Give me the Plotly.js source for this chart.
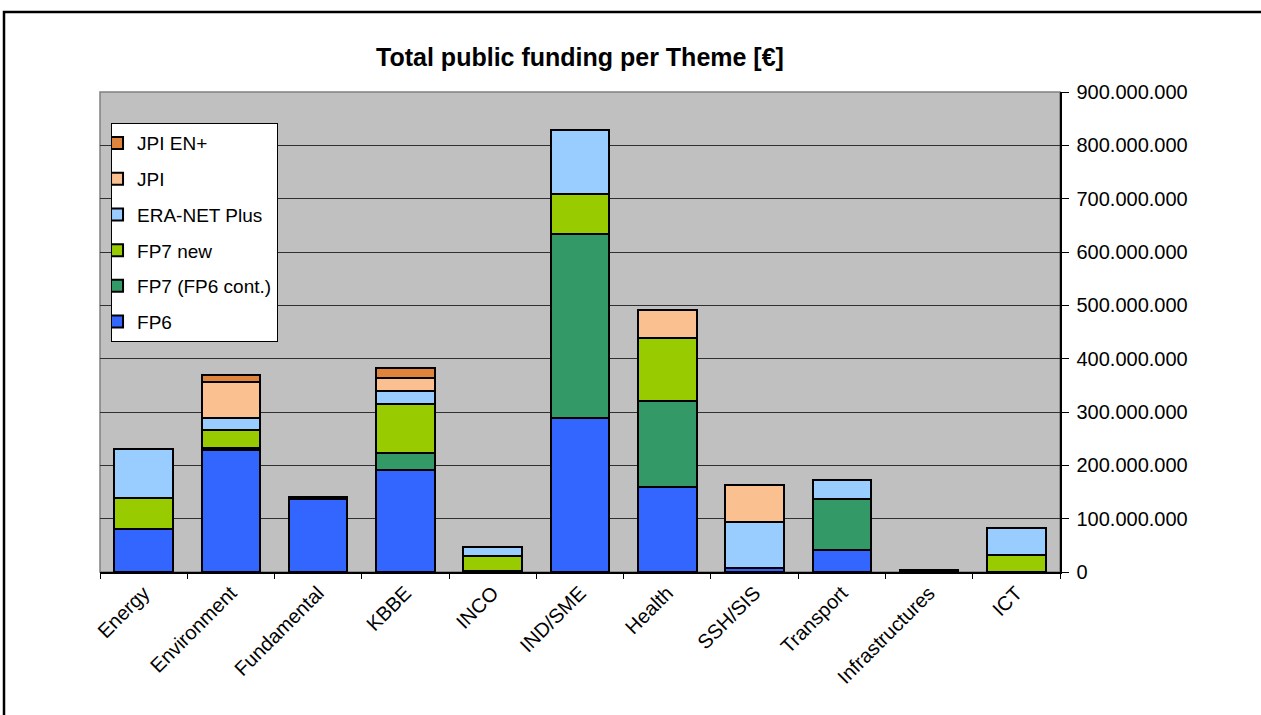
<!DOCTYPE html>
<html>
<head>
<meta charset="utf-8">
<script src="https://cdn.plot.ly/plotly-3.0.1.min.js"></script>
<style>html,body{margin:0;padding:0;background:#fff;}#chart{width:1261px;height:715px;}</style>
</head>
<body>
<div id="chart"></div>
<script>
const categories = ["Energy","Environment","Fundamental","KBBE","INCO","IND/SME","Health","SSH/SIS","Transport","Infrastructures","ICT"];
const fp6       = [80e6, 228e6, 137e6, 192e6, 2e6, 289e6, 160e6, 8e6, 42e6, 3e6, 0];
const fp7cont   = [0, 4e6, 4e6, 32e6, 0, 344e6, 160e6, 0, 95e6, 0, 0];
const fp7new    = [58e6, 35e6, 0, 91e6, 28e6, 75e6, 118e6, 0, 0, 0, 32e6];
const eranet    = [92e6, 22e6, 0, 24e6, 17e6, 120e6, 0, 86e6, 35e6, 0, 51e6];
const jpi       = [0, 67e6, 0, 24e6, 0, 0, 53e6, 69e6, 0, 0, 0];
const jpienplus = [0, 13e6, 0, 20e6, 0, 0, 0, 0, 0, 0, 0];

const seriesNames = ["FP6","FP7 (FP6 cont.)","FP7 new","ERA-NET Plus","JPI","JPI EN+"];
const seriesValues = [fp6, fp7cont, fp7new, eranet, jpi, jpienplus];
const seriesColors = ["#3366ff","#339966","#99cc00","#99ccff","#fac090","#e0843c"];

const traces = seriesNames.map((n, i) => ({
  type: "bar",
  name: n,
  x: categories,
  y: seriesValues[i],
  legendgroup: "g" + i,
  legendrank: 100 - i,
  marker: {color: seriesColors[i], line: {color: "#000", width: 2}},
  hoverinfo: "x+y+name"
}));

const layout = {
  width: 1261, height: 715,
  margin: {l: 100, r: 201, t: 92, b: 143},
  paper_bgcolor: "#ffffff",
  plot_bgcolor: "#c0c0c0",
  barmode: "stack",
  bargap: 0.33,
  separators: ",.",
  font: {family: "Liberation Sans, Arial, sans-serif", size: 20, color: "#000"},
  title: {
    text: "<b>Total public funding per Theme [€]</b>",
    font: {family: "Liberation Sans, Arial, sans-serif", size: 25, color: "#000"},
    x: 0.5, xref: "paper", xanchor: "center",
    y: 0.92, yref: "container", yanchor: "middle"
  },
  xaxis: {
    type: "category",
    tickangle: -45,
    ticks: "outside", tickson: "boundaries", ticklen: 5, tickcolor: "#000", tickwidth: 1,
    showline: true, linecolor: "#000", linewidth: 1.5,
    showgrid: false,
    tickfont: {size: 20}
  },
  yaxis: {
    side: "right",
    range: [0, 900e6],
    dtick: 100e6,
    tickformat: ",d",
    ticks: "outside", ticklen: 7, tickcolor: "#000", tickwidth: 1,
    ticklabelstandoff: 4,
    showline: true, linecolor: "#000", linewidth: 1.5,
    showgrid: true, gridcolor: "#303030", gridwidth: 1,
    zeroline: false,
    tickfont: {size: 20}
  },
  showlegend: true,
  legend: {
    x: 0.0115, y: 0.935, xanchor: "left", yanchor: "top",
    bgcolor: "#ffffff", bordercolor: "#000", borderwidth: 1,
    traceorder: "grouped",
    tracegroupgap: 8,
    itemwidth: 30,
    indentation: -15,
    font: {size: 19, color: "#000"}
  },
  shapes: [
    {type: "rect", xref: "paper", yref: "paper", x0: 0, x1: 1, y0: 0, y1: 1,
     line: {color: "#808080", width: 1.5}, fillcolor: "rgba(0,0,0,0)", layer: "below"},
    {type: "rect", xref: "paper", yref: "paper", x0: -0.1, x1: 1.215, y0: -0.31, y1: 1.1667,
     line: {color: "#000", width: 2.5}, fillcolor: "rgba(0,0,0,0)"}
  ]
};

Plotly.newPlot("chart", traces, layout, {displayModeBar: false, staticPlot: true});
</script>
</body>
</html>
